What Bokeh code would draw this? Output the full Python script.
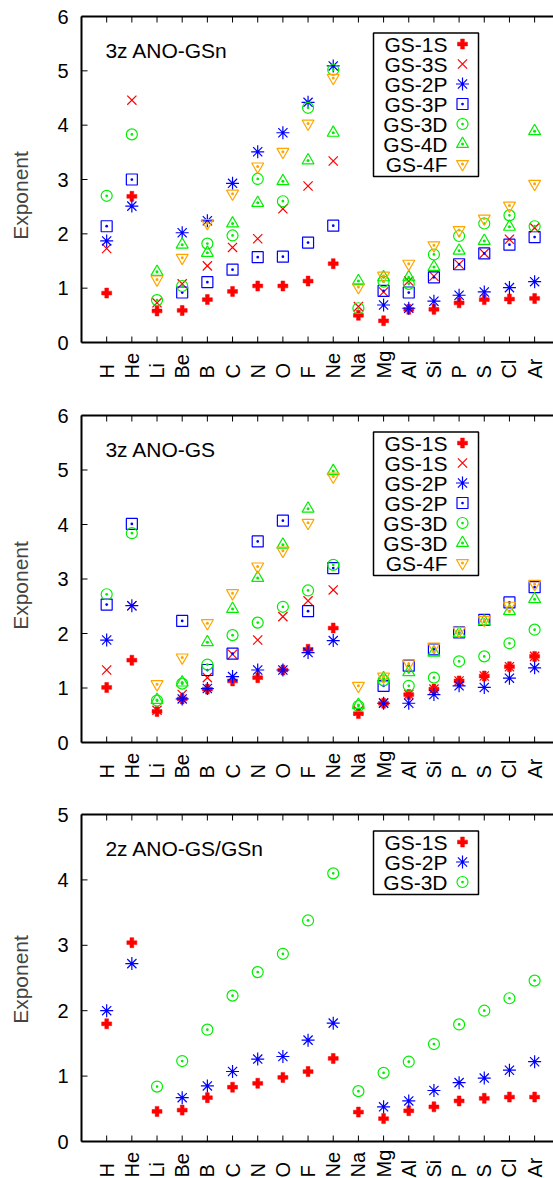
import math
from bokeh.plotting import figure
from bokeh.models import (BoxAnnotation, LinearAxis, FixedTicker, Range1d)
from bokeh.core.properties import value
from bokeh.layouts import column
from bokeh.embed import file_html
from bokeh.resources import INLINE

nan = float("nan")
elements = ["H", "He", "Li", "Be", "B", "C", "N", "O", "F", "Ne",
            "Na", "Mg", "Al", "Si", "P", "S", "Cl", "Ar"]

# ---- Panel 1: 3z ANO-GSn ----
p1_labels = ["GS-1S", "GS-3S", "GS-2P", "GS-3P", "GS-3D", "GS-4D", "GS-4F"]
p1_1S = [0.91, 2.69, 0.58, 0.59, 0.79, 0.94, 1.04, 1.04, 1.13, 1.45, 0.50, 0.40, 0.61, 0.61, 0.73, 0.79, 0.80, 0.81]
p1_3S = [1.73, 4.46, 0.73, 1.08, 1.41, 1.75, 1.91, 2.46, 2.88, 3.34, 0.66, 0.93, 1.13, 1.22, 1.44, 1.64, 1.90, 2.11]
p1_2P = [1.87, 2.51, nan, 2.02, 2.24, 2.93, 3.51, 3.86, 4.42, 5.09, nan, 0.69, 0.63, 0.76, 0.87, 0.93, 1.01, 1.12]
p1_3P = [2.14, 3.00, nan, 0.92, 1.11, 1.34, 1.57, 1.58, 1.84, 2.15, nan, 0.95, 0.92, 1.20, 1.44, 1.64, 1.80, 1.94]
p1_3D = [2.70, 3.83, 0.78, 1.04, 1.82, 1.97, 3.01, 2.60, 4.32, 5.02, 0.63, 1.12, 1.08, 1.62, 1.96, 2.19, 2.34, 2.14]
p1_4D = [nan, nan, 1.30, 1.80, 1.65, 2.19, 2.57, 2.97, 3.35, 3.86, 1.13, 1.20, 1.20, 1.39, 1.69, 1.87, 2.13, 3.89]
p1_4F = [nan, nan, 1.16, 1.56, 2.20, 2.74, 3.24, 3.51, 4.03, 4.87, 1.02, 1.23, 1.45, 1.79, 2.07, 2.28, 2.52, 2.92]

# ---- Panel 2: 3z ANO-GS ----
p2_labels = ["GS-1S", "GS-1S", "GS-2P", "GS-2P", "GS-3D", "GS-3D", "GS-4F"]
p2_a = [1.01, 1.51, 0.57, 0.80, 0.98, 1.13, 1.19, 1.33, 1.71, 2.10, 0.53, 0.72, 0.88, 0.98, 1.13, 1.22, 1.39, 1.58]
p2_b = [1.33, 2.51, 0.59, 0.88, 1.19, 1.62, 1.88, 2.31, 2.60, 2.80, 0.58, 0.73, 0.88, 0.98, 1.13, 1.22, 1.39, 1.58]
p2_c = [1.88, 2.51, nan, 0.80, 0.99, 1.21, 1.33, 1.33, 1.65, 1.87, nan, 0.72, 0.72, 0.88, 1.04, 1.01, 1.18, 1.37]
p2_d = [2.53, 4.01, nan, 2.23, 1.33, 1.63, 3.69, 4.07, 2.41, 3.20, nan, 1.04, 1.41, 1.71, 2.02, 2.25, 2.57, 2.85]
p2_e = [2.72, 3.84, 0.77, 1.08, 1.43, 1.97, 2.20, 2.49, 2.79, 3.26, 0.67, 1.14, 1.04, 1.19, 1.49, 1.58, 1.82, 2.07]
p2_f = [nan, nan, 0.78, 1.10, 1.84, 2.45, 3.02, 3.63, 4.29, 4.98, 0.69, 1.18, 1.29, 1.65, 2.00, 2.22, 2.41, 2.63]
p2_g = [nan, nan, 1.07, 1.56, 2.19, 2.74, 3.23, 3.52, 4.03, 4.88, 1.04, 1.21, 1.45, 1.76, 2.05, 2.25, 2.51, 2.91]

# ---- Panel 3: 2z ANO-GS/GSn ----
p3_labels = ["GS-1S", "GS-2P", "GS-3D"]
p3_1S = [1.80, 3.04, 0.46, 0.48, 0.67, 0.83, 0.89, 0.98, 1.07, 1.27, 0.45, 0.35, 0.47, 0.53, 0.62, 0.66, 0.68, 0.68]
p3_2P = [2.00, 2.72, nan, 0.67, 0.85, 1.07, 1.26, 1.30, 1.55, 1.81, nan, 0.53, 0.62, 0.78, 0.90, 0.97, 1.09, 1.22]
p3_3D = [nan, nan, 0.84, 1.23, 1.71, 2.23, 2.59, 2.87, 3.38, 4.10, 0.77, 1.05, 1.22, 1.49, 1.79, 2.00, 2.19, 2.46]

RED, BLUE, GREEN, ORANGE = "#ff0000", "#0000ff", "#00ee00", "#ffa500"
# key: (marker, colour, size, rotation)
STY = {
    "plus": ("plus", RED, 10, 0.0),
    "x": ("x", RED, 13, 0.0),
    "star": ("asterisk", BLUE, 13, 0.0),
    "square": ("square_dot", BLUE, 11, 0.0),
    "circle": ("circle_dot", GREEN, 11, 0.0),
    "tri": ("triangle_dot", GREEN, 12, 0.0),
    "itri": ("triangle_dot", ORANGE, 12, math.pi),
}
FONT = "Liberation Sans"
W = 553
LEFT = 81          # pixel position of the left border
FRAME_LEFT = 77    # frame starts a few pixels left of the border
XMAX = 18.75
PPX = (W - LEFT) / XMAX
TICK = 6


def add_marks(p, key, xs, vals):
    marker, color, size, ang = STY[key]
    p.scatter(xs, vals, marker=marker, size=size, angle=ang, line_color=color,
              fill_color=color if key == "plus" else None,
              line_width=0.5 if key == "plus" else 1.2)


def panel(title, series, ymax, height, btop, bbot):
    fh = height - btop - bbot
    ppu = fh / ymax
    x0 = -(LEFT - FRAME_LEFT) / PPX
    p = figure(width=W, height=height,
               x_range=Range1d(x0, XMAX),
               y_range=Range1d(-bbot / ppu, ymax + btop / ppu),
               output_backend="svg", toolbar_location=None,
               min_border_left=FRAME_LEFT, min_border_right=0, min_border_top=0,
               min_border_bottom=0, x_axis_location=None, y_axis_location=None)
    p.outline_line_color = None
    p.grid.visible = False
    p.background_fill_color = "white"
    p.border_fill_color = "white"

    # left axis: tick labels and title only (ticks drawn below)
    ya = LinearAxis(ticker=FixedTicker(ticks=list(range(0, int(ymax) + 1))))
    ya.major_tick_in = 0
    ya.major_tick_out = 0
    ya.minor_tick_line_color = None
    ya.axis_line_color = None
    ya.major_label_standoff = 9
    ya.major_label_text_font = FONT
    ya.major_label_text_font_size = "20px"
    ya.major_label_text_color = "black"
    ya.axis_label = "Exponent"
    ya.axis_label_text_font = FONT
    ya.axis_label_text_font_size = "21px"
    ya.axis_label_text_font_style = "normal"
    ya.axis_label_standoff = 22
    p.add_layout(ya, "left")

    xs = list(range(1, 19))
    yt = list(range(0, int(ymax) + 1))
    tx = TICK / PPX
    ty = TICK / ppu

    # borders (left, bottom, top)
    p.segment(x0=[0, 0, 0], y0=[0, 0, ymax], x1=[0, XMAX, XMAX], y1=[ymax, 0, ymax],
              line_color="black", line_width=2)
    # x ticks, inward at bottom and top
    p.segment(x0=xs, y0=[0] * 18, x1=xs, y1=[ty] * 18, line_color="black", line_width=1)
    p.segment(x0=xs, y0=[ymax] * 18, x1=xs, y1=[ymax - ty] * 18, line_color="black", line_width=1)
    # y ticks, inward
    p.segment(x0=[0] * len(yt), y0=yt, x1=[tx] * len(yt), y1=yt, line_color="black", line_width=1)

    # element labels, rotated, start-aligned below the axis
    p.text(x=xs, y=[-36 / ppu] * 18, text=elements, angle=math.pi / 2,
           text_align="left", text_baseline="middle",
           text_font=value(FONT), text_font_size="20px", text_color="black")

    def ytop(px):
        return ymax - px / ppu

    p.text(x=[0.95], y=[ytop(34)], text=[title], text_font=value(FONT),
           text_font_size="21px", text_baseline="middle", text_align="left", text_color="black")

    n = len(series)
    box_top = 16.5
    box_bot = 27.5 + 20 * (n - 1) + 12.5
    p.add_layout(BoxAnnotation(left=(373 - LEFT) / PPX, right=(478 - LEFT) / PPX,
                               top=ytop(box_top), bottom=ytop(box_bot),
                               fill_color="white", fill_alpha=1.0,
                               line_color="black", line_alpha=1.0, line_width=1.5,
                               level="underlay"))
    for key, vals, lab in series:
        add_marks(p, key, xs, vals)
    lx_text = (447 - LEFT) / PPX
    lx_mark = (462 - LEFT) / PPX
    for i, (key, vals, lab) in enumerate(series):
        yy = ytop(27.5 + 20 * i)
        p.text(x=[lx_text], y=[yy], text=[lab], text_font=value(FONT), text_font_size="21px",
               text_align="right", text_baseline="middle", text_color="black")
        add_marks(p, key, [lx_mark], [yy])
    return p


keys7 = ["plus", "x", "star", "square", "circle", "tri", "itri"]
s1 = list(zip(keys7, [p1_1S, p1_3S, p1_2P, p1_3P, p1_3D, p1_4D, p1_4F], p1_labels))
s2 = list(zip(keys7, [p2_a, p2_b, p2_c, p2_d, p2_e, p2_f, p2_g], p2_labels))
s3 = list(zip(["plus", "star", "circle"], [p3_1S, p3_2P, p3_3D], p3_labels))

f1 = panel("3z ANO-GSn", s1, 6, 390, 16, 48)
f2 = panel("3z ANO-GS", s2, 6, 390, 25, 38)
f3 = panel("2z ANO-GS/GSn", s3, 5, 398, 34, 37)

layout = column(f1, f2, f3, spacing=0)
open("out.html", "w").write(file_html(layout, INLINE))
